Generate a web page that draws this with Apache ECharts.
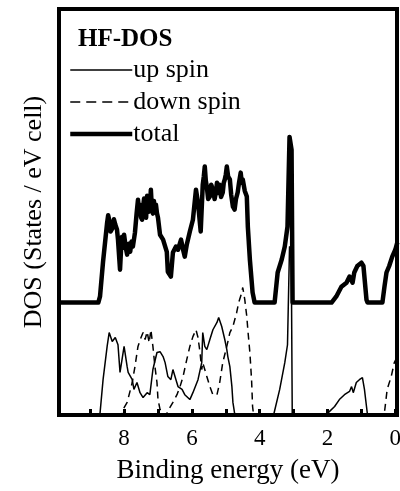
<!DOCTYPE html>
<html><head><meta charset="utf-8">
<script src="https://cdn.jsdelivr.net/npm/echarts@6/dist/echarts.min.js"></script>
<style>html,body{margin:0;padding:0;background:#fff}#c{width:400px;height:491px}</style>
</head><body><div id="c"></div>
<script>
// Binding energy (eV) and DOS values
const totalOffset = 27.7;
const totalE = [9.97,8.76,8.71,8.62,8.50,8.47,8.44,8.40,8.35,8.30,8.26,8.21,8.18,8.12,8.09,8.06,8.03,8.00,7.95,7.91,7.86,7.82,7.78,7.74,7.68,7.63,7.59,7.56,7.53,7.50,7.47,7.44,7.41,7.38,7.35,7.32,7.29,7.26,7.23,7.21,7.18,7.15,7.12,7.09,7.06,7.03,7.00,6.94,6.85,6.74,6.71,6.62,6.56,6.47,6.41,6.32,6.26,6.21,6.15,6.06,5.97,5.88,5.82,5.74,5.68,5.65,5.62,5.59,5.56,5.52,5.47,5.43,5.38,5.33,5.29,5.26,5.22,5.18,5.14,5.09,5.06,5.03,5.00,4.97,4.93,4.88,4.84,4.79,4.74,4.70,4.65,4.61,4.56,4.53,4.50,4.44,4.38,4.35,4.29,4.21,4.15,3.56,3.47,3.35,3.26,3.18,3.12,3.09,3.06,3.03,1.88,1.74,1.59,1.44,1.35,1.26,1.21,1.12,1.00,0.94,0.85,0.82,0.38,0.32,0.26,0.18,0.09,0.00,-0.06];
const totalV = [0,0,1.5,10.1,19.7,21.5,20.4,17.5,18.2,20.5,19.2,18.0,15.5,8.1,13.0,16.2,13.5,16.7,13.5,11.8,14.5,12.5,15.0,13.8,17.2,22.0,25.3,22.5,24.1,21.0,20.4,23.5,25.6,22.0,20.9,26.3,23.5,22.4,25.0,27.8,23.0,21.9,25.0,22.5,24.1,22.0,20.9,16.7,15.5,12.5,7.6,6.4,12.3,13.8,13.0,15.5,13.0,11.3,14.3,17.5,20.4,27.8,24.6,17.5,29.0,31.0,33.5,30.0,28.5,25.5,26.1,29.0,27.8,25.5,27.3,29.5,27.0,29.0,26.0,27.1,29.5,30.3,31.5,33.5,31.0,30.3,26.5,23.6,22.9,25.5,27.1,29.5,32.0,29.5,30.3,27.5,26.1,18.7,10.6,2.5,0,0,7.4,10.6,13.8,18.7,40.8,41.1,37.6,0,0,1.5,3.9,4.9,6.4,4.9,7.4,9.0,9.8,9.0,0.7,0,0,3.9,7.4,9.0,11.3,13.0,14.8];
const upE = [9.97,8.71,8.62,8.50,8.44,8.35,8.26,8.18,8.12,8.06,8.00,7.91,7.88,7.76,7.71,7.62,7.53,7.44,7.32,7.24,7.15,7.03,6.94,6.85,6.79,6.71,6.62,6.56,6.47,6.41,6.29,6.21,6.06,5.97,5.82,5.71,5.68,5.62,5.56,5.47,5.38,5.26,5.21,5.12,5.03,4.97,4.94,4.88,4.82,4.79,4.74,4.68,3.59,3.41,3.26,3.18,3.12,3.09,3.07,3.04,2.09,2.00,1.79,1.65,1.50,1.35,1.29,1.24,1.15,1.06,0.97,0.91,0.85,0.82,-0.06];
const upV = [0,0.4,8.7,16.9,20.3,18.1,19.1,17.3,10.5,13.7,16.9,11.9,10.5,8.7,6.3,8.0,5.5,4.3,5.5,5.0,11.2,15.4,15.6,14.4,12.9,9.5,8.7,11.2,8.7,7.0,6.3,5.0,3.8,5.5,8.7,12.9,20.3,16.9,16.1,18.6,21.0,22.8,24.0,21.8,18.6,16.1,14.4,11.9,7.0,3.1,0.4,0,0,6.3,12.9,17.3,41.5,41.9,41.0,0,0,0.4,2.1,3.8,5.0,5.8,7.0,5.5,8.0,8.7,9.2,6.3,2.1,0,0];
const downE = [9.97,8.06,8.03,7.91,7.76,7.68,7.59,7.50,7.44,7.38,7.32,7.26,7.21,7.15,7.09,7.03,7.00,6.94,6.88,6.76,6.68,6.56,6.44,6.35,6.26,6.15,6.06,5.97,5.88,5.82,5.76,5.71,5.68,5.56,5.47,5.38,5.26,5.18,5.09,4.97,4.88,4.79,4.68,4.62,4.53,4.50,4.44,4.38,4.35,4.29,4.24,4.21,4.18,0.41,0.32,0.24,0.12,0.03,-0.06];
const downV = [0,0,1.4,3.1,8.0,11.9,16.9,19.1,20.3,18.6,20.5,17.8,21.0,16.9,11.9,8.0,3.8,1.4,0,0,1.4,3.1,5.0,7.0,9.5,13.7,16.9,19.3,21.0,19.1,15.4,11.2,12.9,9.5,7.0,5.0,5.0,8.0,12.9,16.9,20.3,21.8,25.2,27.7,30.1,31.4,28.4,24.2,21.0,15.4,8.7,2.1,0,0,0.6,6.3,9.5,12.9,14.4];
const tickValues = [0,1,2,3,4,5,6,7,8,9];
const labelValues = [0,2,4,6,8];

const pair = (xs, ys, off) => xs.map((x, i) => [x, ys[i] + (off || 0)]);
const serif = 'Liberation Serif';
const chart = echarts.init(document.getElementById('c'));
chart.setOption({
  animation: false,
  title: { text: 'HF-DOS', left: 73, top: 22, textStyle: { fontFamily: serif, fontWeight: 'bold', fontSize: 25, color: '#000' } },
  legend: {
    orient: 'vertical', left: 63, top: 52, itemWidth: 62, itemHeight: 14, itemGap: 6,
    itemStyle: { opacity: 0 },
    textStyle: { fontFamily: serif, fontSize: 26, color: '#000', padding: [0,0,0,-4] },
    data: [
      { name: 'up spin', lineStyle: { width: 1.5 } },
      { name: 'down spin', lineStyle: { width: 1.5, type: [10, 6] } },
      { name: 'total', lineStyle: { width: 4.5 } }
    ]
  },
  grid: { left: 59, right: 3, top: 9, bottom: 76, show: true, borderColor: '#000', borderWidth: 4,
    containLabel: false, outerBoundsMode: 'none' },
  xAxis: {
    type: 'value', inverse: true, min: -0.05, max: 9.92,
    name: 'Binding energy (eV)', nameLocation: 'middle', nameGap: 42,
    nameTextStyle: { fontFamily: serif, fontSize: 27, color: '#000' },
    axisLine: { show: false },
    axisTick: { inside: true, length: 6, lineStyle: { width: 3, color: '#000' }, customValues: tickValues },
    axisLabel: { fontFamily: serif, fontSize: 23, color: '#000', margin: 12, customValues: labelValues },
    splitLine: { show: false }
  },
  yAxis: {
    type: 'value', min: 0, max: 100,
    name: 'DOS (States / eV cell)', nameLocation: 'middle', nameGap: 12,
    nameTextStyle: { fontFamily: serif, fontSize: 26, color: '#000' },
    axisLine: { show: false }, axisTick: { show: false }, axisLabel: { show: false }, splitLine: { show: false }
  },
  series: [
    { name: 'up spin', type: 'line', data: pair(upE, upV), showSymbol: false, symbol: 'none', clip: true,
      lineStyle: { color: '#000', width: 1.5 }, itemStyle: { color: '#000' } },
    { name: 'down spin', type: 'line', data: pair(downE, downV), showSymbol: false, symbol: 'none', clip: true,
      lineStyle: { color: '#000', width: 1.5, type: [7, 5] }, itemStyle: { color: '#000' } },
    { name: 'total', type: 'line', data: pair(totalE, totalV, totalOffset), showSymbol: false, symbol: 'none', clip: true,
      lineStyle: { color: '#000', width: 4.5, join: 'round' }, itemStyle: { color: '#000' } }
  ]
});
</script></body></html>
